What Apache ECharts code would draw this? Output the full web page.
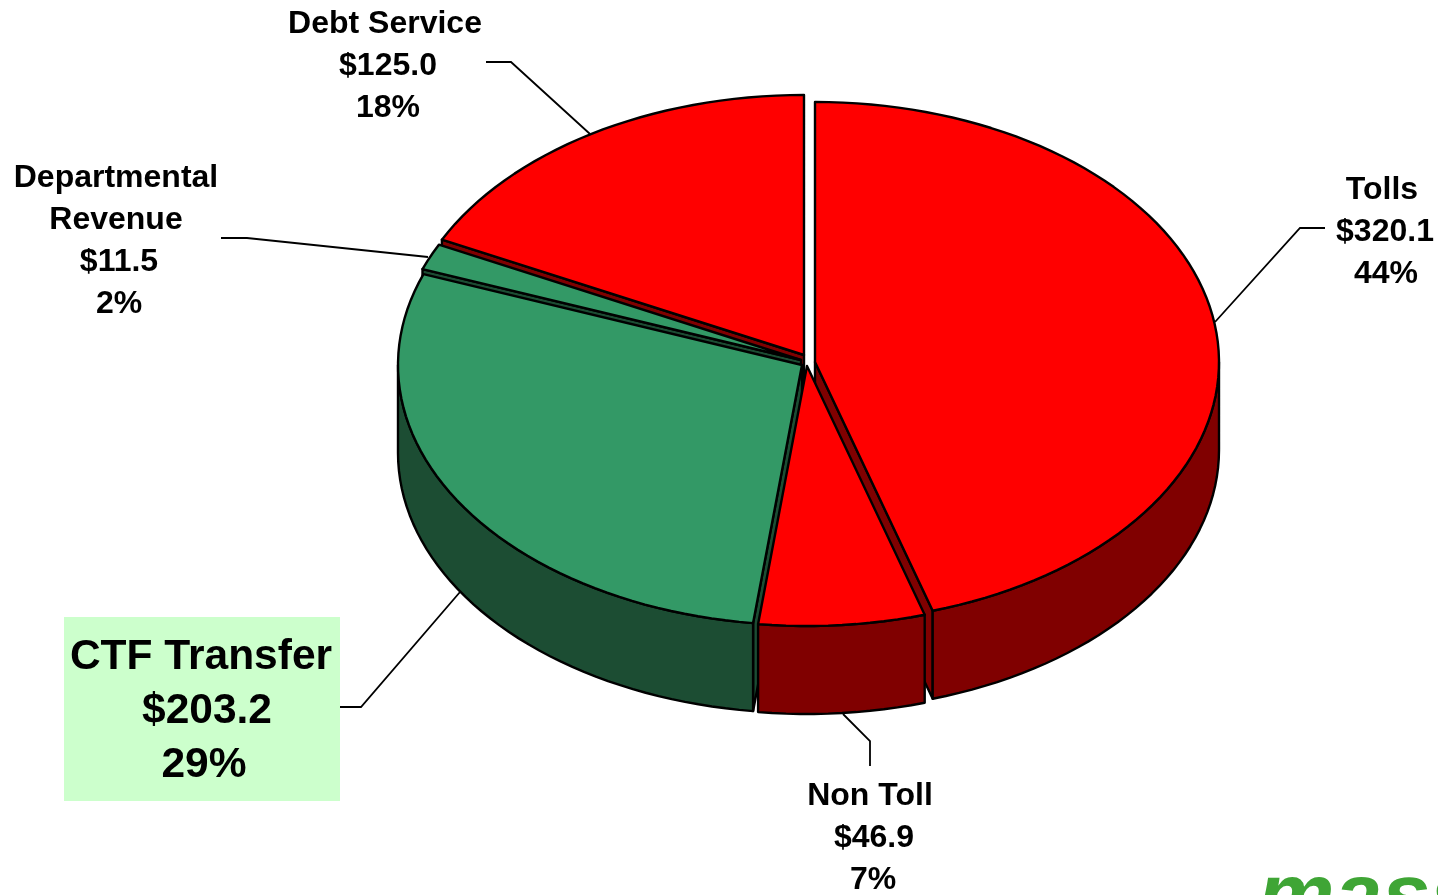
<!DOCTYPE html>
<html>
<head>
<meta charset="utf-8">
<title>Revenue sources</title>
<script src="https://cdn.jsdelivr.net/npm/echarts@6/dist/echarts.min.js"></script>
<style>
  html, body { margin: 0; padding: 0; background: #fff; overflow: hidden; }
  #chart { width: 1438px; height: 895px; }
</style>
</head>
<body>
<div id="chart"></div>
<script>
// Revenue by source, clockwise from twelve o'clock ($ millions)
const categories = ['Tolls', 'Non Toll', 'CTF Transfer', 'Departmental Revenue', 'Debt Service'];
const amounts = [320.1, 46.9, 203.2, 11.5, 125.0];
const percentLabels = ['44%', '7%', '29%', '2%', '18%'];

// Tilted-disc geometry
const RX = 404, RY = 260, DEPTH = 88;
const LINE = 2.4;

// Per-slice appearance: apex of the exploded wedge, paint order and colours
const RED = { top: '#ff0000', side: '#800000' };
const GREEN = { top: '#339966', side: '#1c4d33' };
const sliceStyle = [
  { cx: 815, cy: 362, paint: 4, ...RED },
  { cx: 807, cy: 366, paint: 5, ...RED },
  { cx: 802, cy: 365, paint: 3, ...GREEN },
  { cx: 801, cy: 360, paint: 2, ...GREEN },
  { cx: 804, cy: 355, paint: 1, ...RED }
];

// Where each callout sits: text line centres, font size, leader polyline
const calloutLayout = [
  { size: 32, lines: [[1382, 190], [1385, 232], [1386, 274]], leader: [[1325, 228], [1300, 228], [1215, 322]] },
  { size: 32, lines: [[870, 796], [874, 838], [873, 880]], leader: [[870, 766], [870, 741], [843, 714]] },
  { size: 42.5, lines: [[201, 657], [207, 711], [204, 765]], leader: [[340, 707], [361, 707], [460, 592]],
    box: { x: 64, y: 617, width: 276, height: 184, fill: '#ccffcc' } },
  { size: 32, lines: [[116, 178], [116, 220], [119, 262], [119, 304]], leader: [[221, 238], [247, 238], [428, 257]] },
  { size: 32, lines: [[385, 24], [388, 66], [388, 108]], leader: [[486, 62], [511, 62], [590, 134]] }
];

const total = amounts.reduce((a, b) => a + b, 0);
const wrappedNames = { 'Departmental Revenue': ['Departmental', 'Revenue'] };

// Sweep of each wedge in degrees, measured clockwise from the top
const sweeps = [];
amounts.reduce((start, v) => {
  const end = start + v / total * 360;
  sweeps.push([start, end]);
  return end;
}, 0);

function rim(s, deg, drop) {
  const r = deg * Math.PI / 180;
  return [s.cx + RX * Math.sin(r), s.cy - RY * Math.cos(r) + (drop || 0)];
}

function arc(s, from, to, drop) {
  const pts = [];
  const n = Math.max(2, Math.ceil((to - from) / 2));
  for (let i = 0; i <= n; i++) pts.push(rim(s, from + (to - from) * i / n, drop));
  return pts;
}

function face(points, fill, z2) {
  return {
    type: 'polygon',
    z2,
    shape: { points },
    style: { fill, stroke: '#000', lineWidth: LINE, lineJoin: 'round' }
  };
}

function renderWedge(params) {
  const i = params.dataIndex;
  const s = sliceStyle[i];
  const [from, to] = sweeps[i];
  const apex = [s.cx, s.cy];
  const apexLow = [s.cx, s.cy + DEPTH];
  const z = s.paint * 10;
  const children = [];

  // Cut faces that turn towards the viewer
  const edges = [];
  if (from > 180 && from < 360) edges.push(from);
  if (to > 0 && to < 180) edges.push(to);
  edges.forEach(a => {
    children.push(face([apex, rim(s, a), rim(s, a, DEPTH), apexLow], s.side, z));
  });

  // Curved outer wall on the near half of the disc
  const a0 = Math.max(from, 90), a1 = Math.min(to, 270);
  if (a1 > a0) {
    children.push(face(arc(s, a0, a1).concat(arc(s, a0, a1, DEPTH).reverse()), s.side, z + 1));
  }

  // Top face
  children.push(face([apex].concat(arc(s, from, to)), s.top, z + 2));
  return { type: 'group', children };
}

function renderCallout(params) {
  const i = params.dataIndex;
  const c = calloutLayout[i];
  const name = categories[i];
  const texts = (wrappedNames[name] || [name]).concat('$' + amounts[i].toFixed(1), percentLabels[i]);
  const children = [];
  if (c.box) {
    children.push({
      type: 'rect',
      shape: { x: c.box.x, y: c.box.y, width: c.box.width, height: c.box.height },
      style: { fill: c.box.fill }
    });
  }
  children.push({
    type: 'polyline',
    shape: { points: c.leader },
    style: { fill: 'none', stroke: '#000', lineWidth: 1.8 }
  });
  texts.forEach((t, k) => {
    children.push({
      type: 'text',
      x: c.lines[k][0],
      y: c.lines[k][1],
      style: {
        text: t,
        fill: '#000',
        font: 'bold ' + c.size + 'px "Liberation Sans", Arial, sans-serif',
        textAlign: 'center',
        textVerticalAlign: 'middle'
      }
    });
  });
  return { type: 'group', children };
}

const chart = echarts.init(document.getElementById('chart'), null, { renderer: 'canvas' });
chart.setOption({
  animation: false,
  backgroundColor: '#fff',
  series: [
    {
      type: 'custom',
      coordinateSystem: 'none',
      silent: true,
      z: 1,
      data: categories.map((c, i) => ({ name: c, value: amounts[i] })),
      renderItem: renderCallout
    },
    {
      type: 'custom',
      coordinateSystem: 'none',
      silent: true,
      z: 2,
      data: categories.map((c, i) => ({ name: c, value: amounts[i] })),
      renderItem: renderWedge
    }
  ],
  graphic: [{
    type: 'text',
    left: 1258,
    top: 856,
    style: {
      text: 'mass',
      fill: '#3fa535',
      font: 'italic bold 86px "Liberation Sans", Arial, sans-serif'
    }
  }]
});
</script>
</body>
</html>
